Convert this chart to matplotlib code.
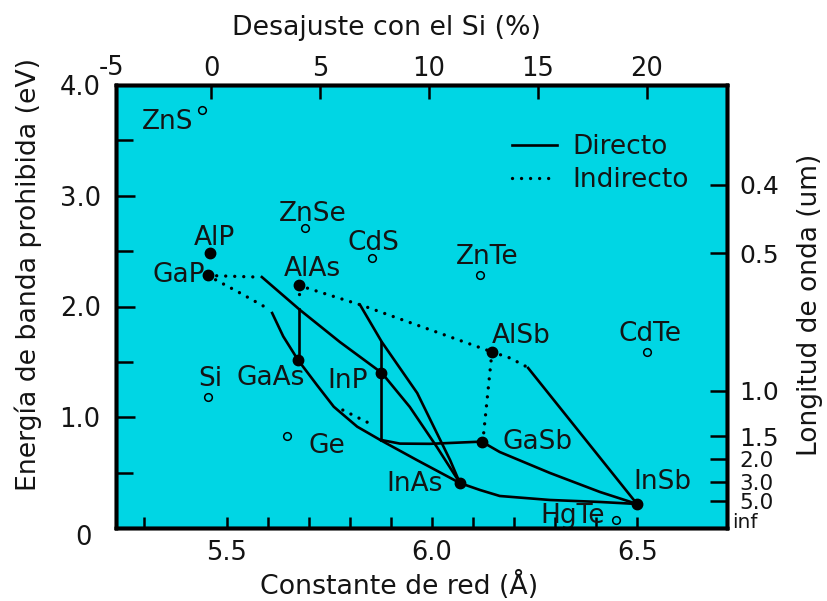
import numpy as np
import matplotlib
matplotlib.use("Agg")
import matplotlib.pyplot as plt
from matplotlib.lines import Line2D
from matplotlib.transforms import ScaledTranslation

# ---------------- data ----------------
# binary compounds shown with filled dots: lattice constant (Å), band gap (eV)
binary_names = ["AlP", "GaP", "AlAs", "GaAs", "InP", "AlSb", "GaSb", "InAs", "InSb"]
binary_a = [5.459, 5.454, 5.676, 5.674, 5.876, 6.146, 6.121, 6.068, 6.499]
binary_eg = [2.48, 2.28, 2.19, 1.52, 1.40, 1.59, 0.78, 0.41, 0.22]

# other materials shown with open circles
other_names = ["ZnS", "ZnSe", "CdS", "ZnTe", "CdTe", "Si", "Ge", "HgTe"]
other_a = [5.440, 5.690, 5.854, 6.117, 6.523, 5.454, 5.647, 6.449]
other_eg = [3.77, 2.71, 2.44, 2.28, 1.59, 1.18, 0.83, 0.07]

# alloy curves, direct gap (solid)
gainp_a = [5.586, 5.679, 5.776, 5.878, 5.946, 6.012, 6.068]
gainp_eg = [2.266, 1.968, 1.679, 1.400, 1.093, 0.731, 0.406]
alinas_a = [5.825, 5.878, 5.964, 6.044, 6.068]
alinas_eg = [2.014, 1.679, 1.219, 0.614, 0.406]
vert_a = [5.876, 5.876]
vert_eg = [1.679, 0.795]
gasbp_a = [5.876, 5.922, 5.995, 6.121]
gasbp_eg = [0.795, 0.762, 0.760, 0.780]
gainas_a = [5.611, 5.638, 5.674, 5.720, 5.761, 5.818, 5.874, 5.963, 6.068]
gainas_eg = [1.941, 1.730, 1.517, 1.291, 1.095, 0.915, 0.795, 0.614, 0.406]
algaas_a = [5.676, 5.676]
algaas_eg = [1.977, 1.517]
inassb_a = [6.068, 6.117, 6.165, 6.287, 6.409, 6.499]
inassb_eg = [0.406, 0.343, 0.289, 0.253, 0.235, 0.217]
gainsb_a = [6.121, 6.165, 6.287, 6.409, 6.499]
gainsb_eg = [0.780, 0.686, 0.497, 0.325, 0.217]
alinsb_a = [6.234, 6.499]
alinsb_eg = [1.445, 0.217]

# alloy curves, indirect gap (dotted)
gap_h_a = [5.454, 5.574]
gap_h_eg = [2.28, 2.266]
gaasp_a = [5.454, 5.533, 5.594]
gaasp_eg = [2.28, 2.122, 1.995]
alas_v_a = [5.676, 5.676]
alas_v_eg = [2.19, 2.04]
alassb_a = [5.676, 5.830, 6.146]
alassb_eg = [2.19, 2.01, 1.59]
alsb_r_a = [6.146, 6.190, 6.231]
alsb_r_eg = [1.59, 1.535, 1.454]
algasb_a = [6.146, 6.124]
algasb_eg = [1.59, 0.79]
short_a = [5.783, 5.856]
short_eg = [1.065, 0.930]

direct_curves = [(gainp_a, gainp_eg), (alinas_a, alinas_eg), (vert_a, vert_eg),
                 (gasbp_a, gasbp_eg), (gainas_a, gainas_eg), (algaas_a, algaas_eg),
                 (inassb_a, inassb_eg), (gainsb_a, gainsb_eg), (alinsb_a, alinsb_eg)]
indirect_curves = [(gap_h_a, gap_h_eg), (gaasp_a, gaasp_eg), (alas_v_a, alas_v_eg),
                   (alassb_a, alassb_eg), (alsb_r_a, alsb_r_eg), (algasb_a, algasb_eg),
                   (short_a, short_eg)]

# axis ticks
left_ticks = [0, 1, 2, 3, 4]
left_labels = ["0", "1.0", "2.0", "3.0", "4.0"]
bottom_ticks = [5.5, 6.0, 6.5]
bottom_labels = ["5.5", "6.0", "6.5"]
bottom_minor = [5.3, 5.6, 5.7, 5.8, 5.9, 6.1, 6.2, 6.3, 6.4]
mismatch_ticks = [0, 5, 10, 15, 20]
mismatch_labels = ["0", "5", "10", "15", "20"]
wavelengths = [0.4, 0.5, 1.0, 1.5, 2.0, 3.0, 5.0, np.inf]
wavelength_labels = ["0.4", "0.5", "1.0", "1.5", "2.0", "3.0", "5.0", "inf"]

# ---------------- styling / layout ----------------
BG = "#00d6e4"
TXT = "#141414"
FS_TICK = 18.5
FS_LAB = 19.3
FS_TXT = 19
label_offsets = {  # label centre relative to marker, in points
    "AlP": (3.6, 10.8), "GaP": (-2.0, 0.5), "AlAs": (10, 12.2), "GaAs": (-19.4, -13),
    "InP": (-23.8, -5.8), "AlSb": (21, 11.5), "GaSb": (40.3, 0), "InAs": (-33, -0.7),
    "InSb": (18, 15.8), "ZnS": (-24.5, -8.6), "ZnSe": (5.8, 10), "CdS": (1.4, 10.8),
    "ZnTe": (5, 13), "CdTe": (2.2, 13), "Si": (2.2, 13), "Ge": (28.8, -7.2),
    "HgTe": (-31.7, 2.9),
}

fig = plt.figure(figsize=(8.28, 6.01), dpi=100)
ax = fig.add_axes([116 / 828, 73 / 601, 611 / 828, 443 / 601])
ax.set_facecolor(BG)
ax.set_xlim(5.231, 6.718)
ax.set_ylim(0, 4)

dot_style = (0, (0.01, 2.7))
for xs, ys in direct_curves:
    ax.plot(xs, ys, "-", color="k", lw=1.9, zorder=3)
for xs, ys in indirect_curves:
    ax.plot(xs, ys, color="k", lw=2.4, ls=dot_style, dash_capstyle="round", zorder=3)

ax.plot(binary_a, binary_eg, "o", color="k", ms=7.5, zorder=5)
ax.plot(other_a, other_eg, "o", mfc="none", mec="k", ms=5.5, mew=1.1, zorder=5)

for name, a, e in zip(binary_names + other_names, binary_a + other_a, binary_eg + other_eg):
    dx, dy = label_offsets[name]
    ha = "right" if name == "GaP" else "center"
    ax.annotate(name, (a, e), xytext=(dx, dy), textcoords="offset points",
                ha=ha, va="center", fontsize=FS_TXT, color=TXT, zorder=6)

for sp in ax.spines.values():
    sp.set_linewidth(2.5)

ax.set_yticks(left_ticks, left_labels)
ax.set_yticks([0.5, 1.5, 2.5, 3.5], minor=True)
ax.set_xticks(bottom_ticks, bottom_labels)
ax.set_xticks(bottom_minor, minor=True)
ax.tick_params(axis="both", which="both", direction="in", width=1.8, colors="k",
               labelcolor=TXT, labelsize=FS_TICK)
ax.tick_params(axis="y", which="major", length=14, pad=11)
ax.tick_params(axis="y", which="minor", length=12)
ax.tick_params(axis="x", which="both", length=8, pad=9)
zero_lab = ax.get_yticklabels()[0]
zero_lab.set_transform(zero_lab.get_transform() +
                       ScaledTranslation(-0.09, -0.07, fig.dpi_scale_trans))

ax.set_xlabel("Constante de red (Å)", fontsize=FS_LAB, color=TXT)
ax.xaxis.label.set_va("baseline")
ax.xaxis.set_label_coords(0.463, -0.148)
ax.set_ylabel("Energía de banda prohibida (eV)", fontsize=FS_LAB, color=TXT)
ax.yaxis.set_label_coords(-0.121, 0.573)

# top axis: lattice mismatch with Si
ax_top = ax.twiny()
ax_top.set_xlim(-4.358, 23.67)
ax_top.set_xticks(mismatch_ticks, mismatch_labels)
ax_top.tick_params(axis="x", direction="in", length=10, width=1.8, labelsize=FS_TICK,
                   labelcolor=TXT, pad=2.5)
ax_top.set_xlabel("Desajuste con el Si (%)", fontsize=FS_LAB, color=TXT)
ax_top.xaxis.label.set_va("baseline")
ax_top.xaxis.set_label_coords(0.4435, 1.113)
ax_top.text(-0.007, 1.038, "-5", transform=ax_top.transAxes, ha="center", va="center",
            fontsize=FS_TICK, color=TXT)

# right axis: wavelength
ax_r = ax.twinx()
ax_r.set_ylim(0, 4)
energies = [0.0 if np.isinf(w) else 1.24 / w for w in wavelengths]
ax_r.set_yticks(energies, wavelength_labels)
ax_r.tick_params(axis="y", direction="in", length=12, width=1.8, labelsize=FS_TICK,
                 labelcolor=TXT, pad=9)
for lab, fs in zip(ax_r.get_yticklabels(), [18, 18, 18, 18, 15.5, 15.5, 15.5, 14.5]):
    lab.set_fontsize(fs)
inf_lab = ax_r.get_yticklabels()[-1]
inf_lab.set_transform(inf_lab.get_transform() +
                      ScaledTranslation(-0.07, 0.07, fig.dpi_scale_trans))
ax_r.set_ylabel("Longitud de onda (um)", fontsize=19, color=TXT)
ax_r.yaxis.set_label_coords(1.1146, 0.503)
for a_ in (ax_top, ax_r):
    for sp in a_.spines.values():
        sp.set_linewidth(2.5)

handles = [Line2D([], [], color="k", lw=1.9),
           Line2D([], [], color="k", lw=2.4, ls=dot_style, dash_capstyle="round")]
leg = ax_r.legend(handles, ["Directo", "Indirecto"], loc="upper left",
                  bbox_to_anchor=(0.648, 0.889), frameon=False, fontsize=FS_TXT,
                  handlelength=1.7, handletextpad=0.6, labelspacing=0.25,
                  borderpad=0, borderaxespad=0)
for t in leg.get_texts():
    t.set_color(TXT)

fig.savefig("out.png", dpi=100)
